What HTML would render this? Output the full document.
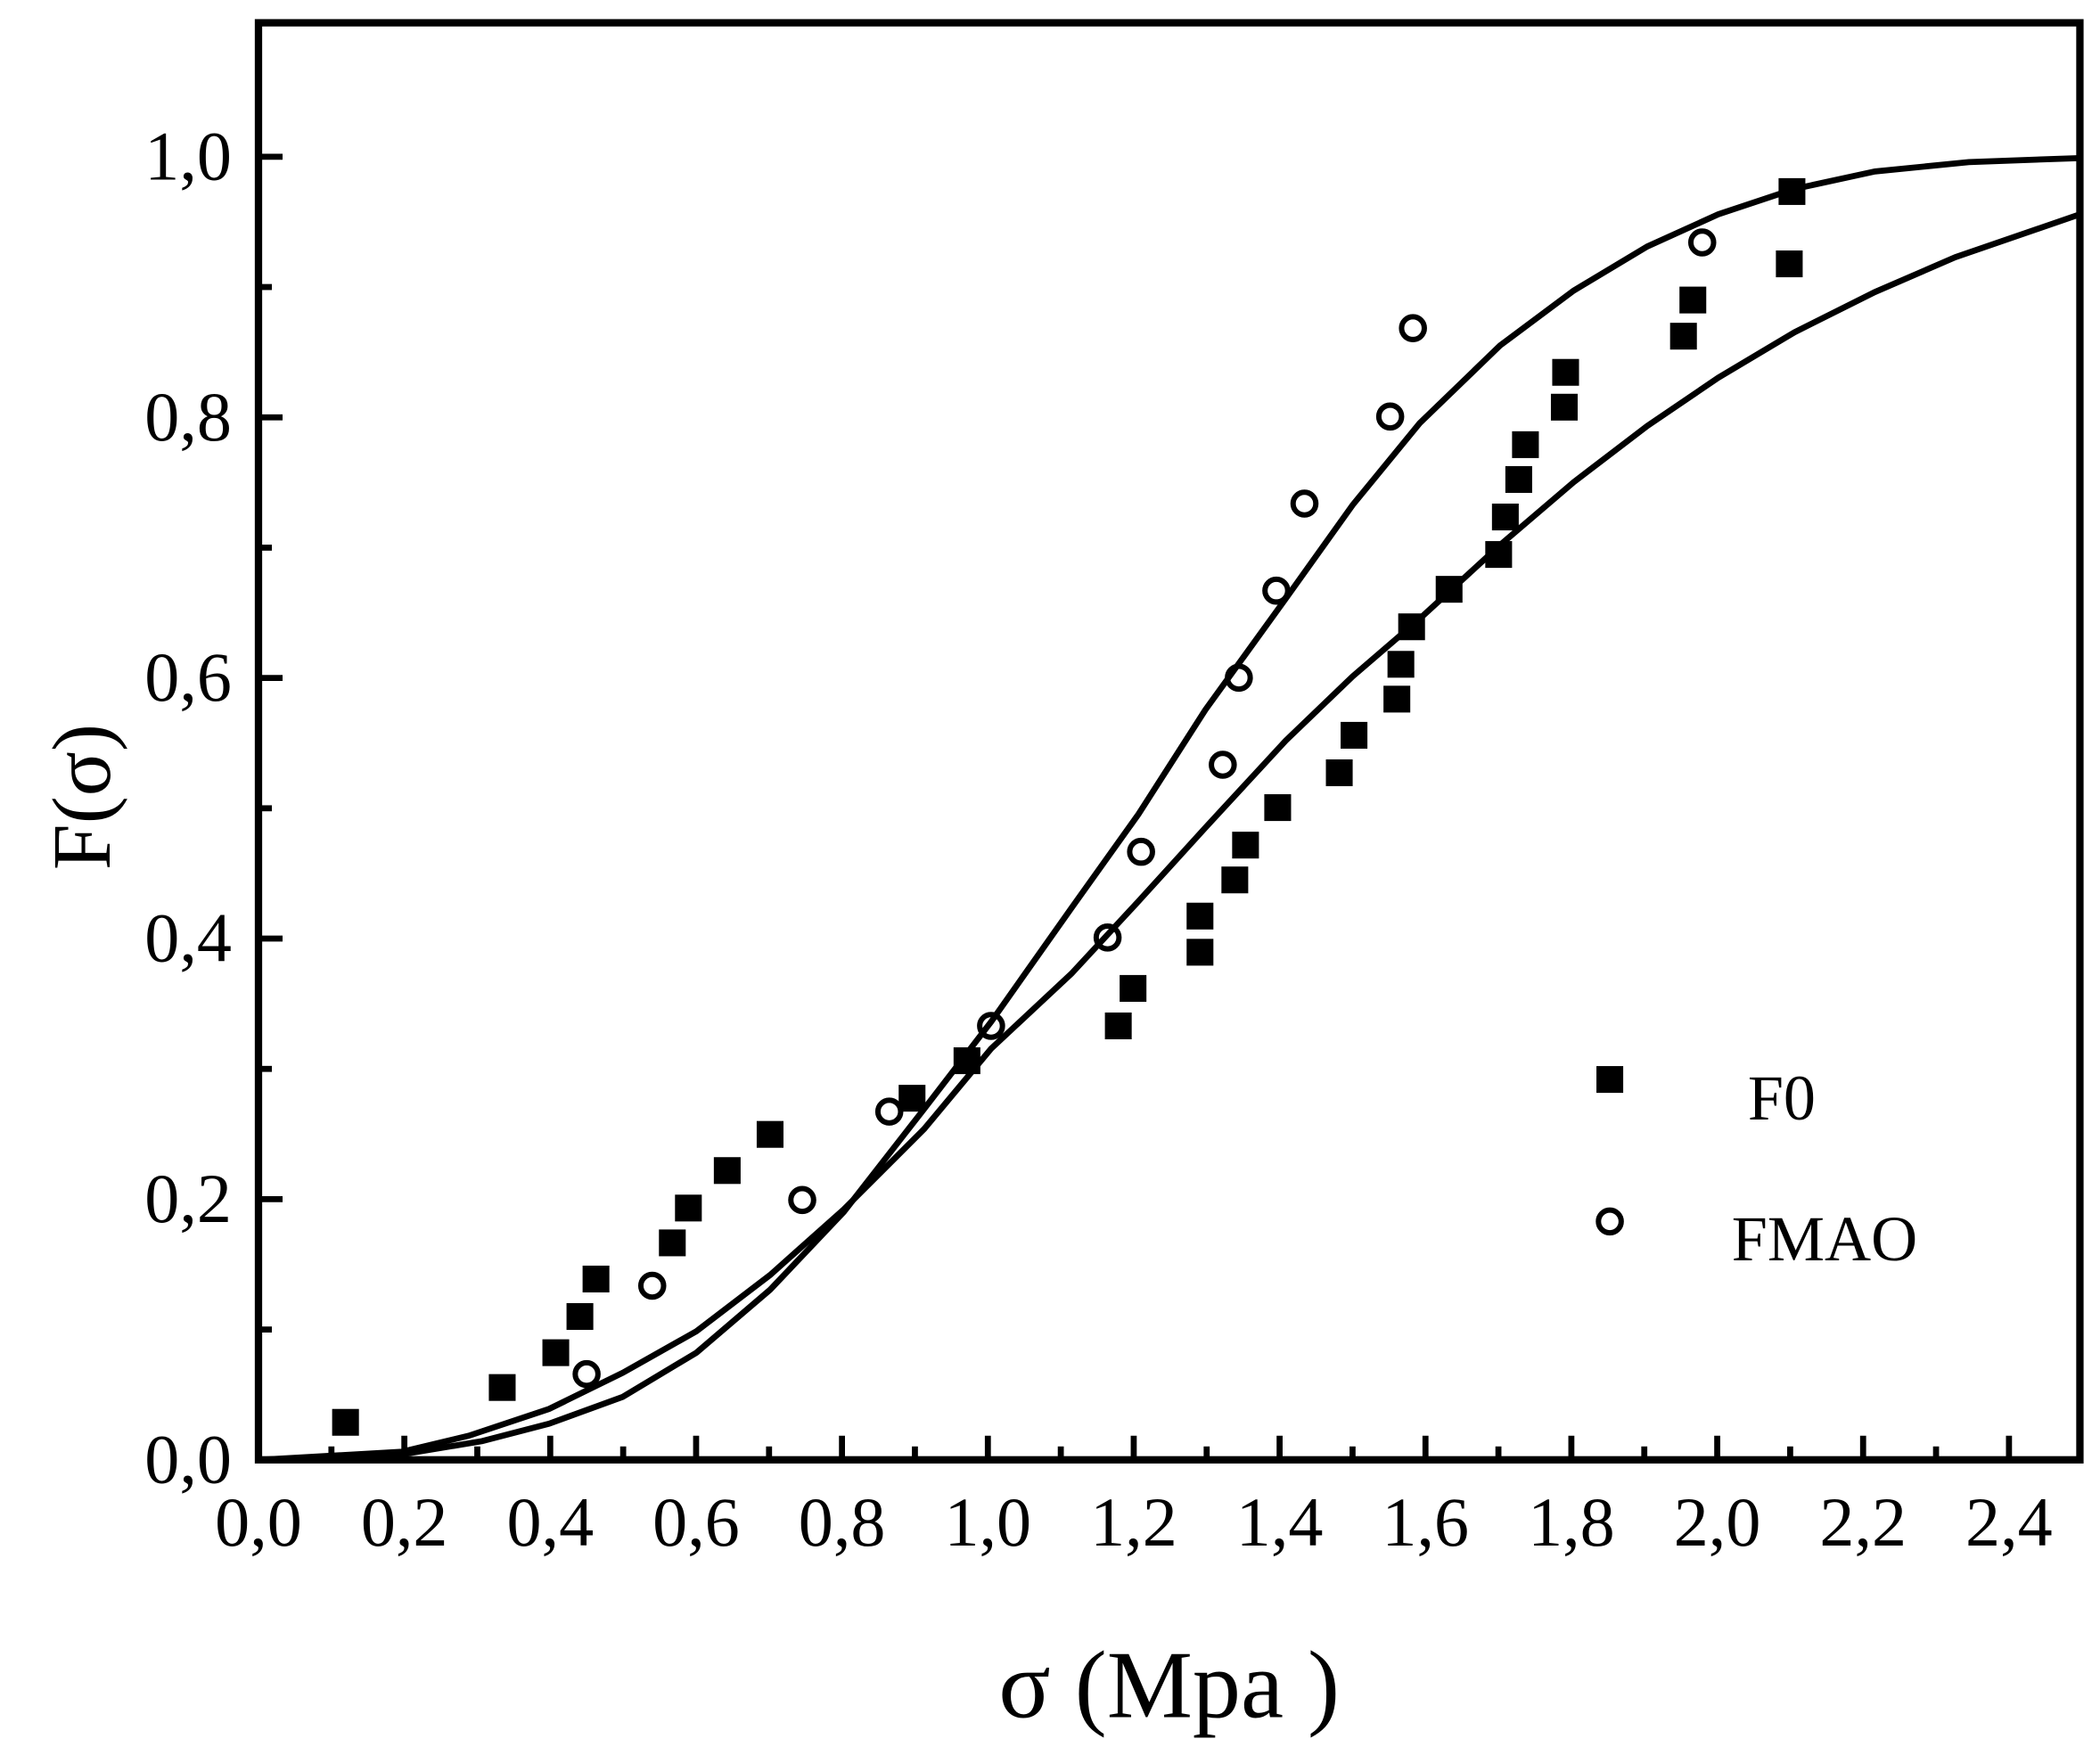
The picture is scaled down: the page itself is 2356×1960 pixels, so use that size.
<!DOCTYPE html>
<html><head><meta charset="utf-8"><style>html,body{margin:0;padding:0;background:#fff}svg{display:block}</style></head>
<body>
<svg width="2356" height="1960" viewBox="0 0 1568 1304.4" xmlns="http://www.w3.org/2000/svg" font-family="'Liberation Serif', serif">
<rect x="0" y="0" width="1568" height="1305" fill="#fff"/>
<rect x="193" y="17" width="1360" height="1073" fill="none" stroke="#000" stroke-width="5.5"/>
<g stroke="#000" stroke-width="4.5" id="ticks"></g>
<g font-size="52" text-anchor="end" id="ylab"></g>
<g font-size="52" text-anchor="middle" id="xlab"></g>
<polyline fill="none" stroke="#000" stroke-width="4.5" points="193,1090 300,1086 360,1076 410,1063 465,1043 520,1010 575,963 630,905 690,828 740,763 800,678 850,608 900,530 960,447 1010,377 1060,316 1120,258 1175,217 1230,184 1283,160 1340,141 1400,128 1470,121 1553,118"/>
<polyline fill="none" stroke="#000" stroke-width="4.5" points="193,1090 300,1084 350,1072 410,1052 465,1025 520,994 575,952 630,903 690,843 740,783 800,727 850,673 900,618 960,553 1010,505 1060,462 1120,407 1175,360 1230,318 1283,282 1340,248 1400,218 1460,192 1553,160"/>
<g fill="#000" id="sq"></g>
<g fill="none" stroke="#000" stroke-width="4" id="ci"></g>
<rect x="1192" y="796" width="20" height="20" fill="#000"/>
<circle cx="1202" cy="912" r="8.5" fill="none" stroke="#000" stroke-width="4"/>
<text x="1305" y="836" font-size="48">F0</text>
<text x="1293" y="941" font-size="48">FMAO</text>
<text x="873" y="1282" font-size="72" text-anchor="middle">σ (Mpa )</text>
<text transform="translate(82,595) rotate(-90)" font-size="62" text-anchor="middle">F(σ)</text>
<script>
var ns="http://www.w3.org/2000/svg";
function el(p,t,a,txt){var e=document.createElementNS(ns,t);for(var k in a)e.setAttribute(k,a[k]);if(txt)e.textContent=txt;document.getElementById(p).appendChild(e);}
var X=function(v){return 193+v*544.6},Y=function(v){return 1090-v*973};
for(var i=1;i<=24;i++){var x=X(i/10),L=i%2?10:18;el("ticks","line",{x1:x,x2:x,y1:1090,y2:1090-L});}
for(var i=1;i<=10;i++){var y=Y(i/10),L=i%2?10:18;el("ticks","line",{x1:193,x2:193+L,y1:y,y2:y});}
for(var i=0;i<=12;i++){el("xlab","text",{x:X(i/5),y:1154},(i/5).toFixed(1).replace(".",","));}
for(var i=0;i<=5;i++){el("ylab","text",{x:173,y:Y(i/5)+17},(i/5).toFixed(1).replace(".",","));}
var S=[[258,1062],[375,1036],[415,1010],[433,983],[445,955],[502,928],[514,902],[543,874],[575,847],[681,820],[722,792],[835,766],[846,738],[896,711],[896,684],[922,657],[930,631],[954,603],[1000,577],[1011,549],[1043,522],[1046,496],[1054,468],[1082,440],[1119,414],[1124,386],[1134,358],[1139,332],[1168,304],[1169,278],[1257,251],[1264,224],[1336,197],[1338,143]];
S.forEach(function(p){el("sq","rect",{x:p[0]-10,y:p[1]-10,width:20,height:20});});
var C=[[438,1026],[487,960],[599,896],[664,830],[740,766],[827,700],[852,636],[913,571],[925,506],[953,441],[974,376],[1038,311],[1055,245],[1271,181]];
C.forEach(function(p){el("ci","circle",{cx:p[0],cy:p[1],r:8.5});});
</script>
</svg>
</body></html>
